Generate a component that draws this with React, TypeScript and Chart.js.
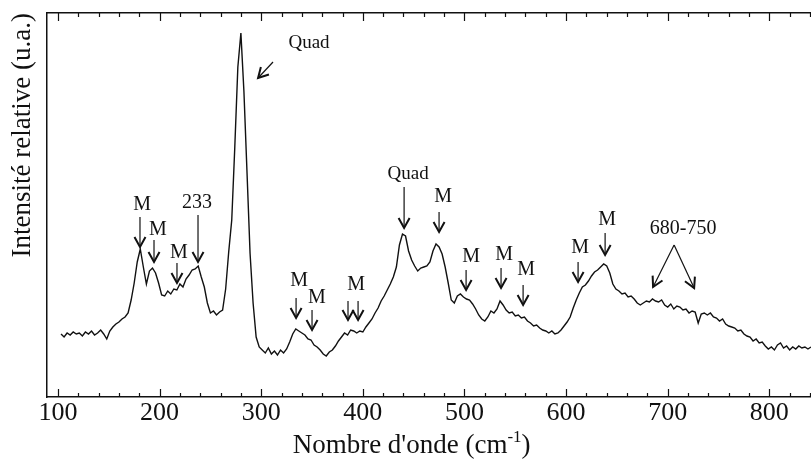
import { useEffect, useRef } from "react";
import { Chart, registerables } from "chart.js";

Chart.register(...registerables);

// Raman spectrum, sampled every 3 cm-1 starting at 103 cm-1
const WAVENUMBER_START = 103;
const WAVENUMBER_STEP = 3;
const INTENSITY = [
  63, 60, 64, 62, 65, 63, 64, 61, 65, 63,
  66, 62, 64, 67, 63, 58, 66, 70, 73, 75,
  78, 80, 84, 97, 114, 135, 148, 130, 113, 126,
  129, 124, 114, 102, 101, 106, 103, 108, 107, 113,
  110, 118, 122, 127, 128, 131, 120, 110, 94, 84,
  86, 82, 85, 87, 108, 145, 177, 250, 330, 364,
  305, 225, 144, 94, 60, 50, 47, 44, 49, 43,
  46, 42, 47, 44, 48, 55, 63, 68, 66, 64,
  62, 58, 57, 52, 50, 47, 43, 41, 45, 47,
  51, 56, 60, 64, 62, 67, 66, 64, 66, 65,
  70, 74, 78, 84, 89, 96, 101, 107, 113, 120,
  130, 152, 163, 161, 146, 137, 131, 126, 129, 130,
  131, 135, 146, 153, 150, 143, 130, 114, 97, 94,
  101, 103, 100, 98, 97, 93, 88, 82, 78, 76,
  80, 86, 84, 88, 96, 92, 87, 84, 85, 81,
  82, 79, 80, 76, 74, 71, 72, 69, 67, 66,
  64, 66, 63, 64, 67, 71, 75, 80, 89, 97,
  104, 110, 112, 116, 121, 125, 127, 130, 133, 131,
  124, 113, 108, 106, 103, 104, 100, 101, 98, 94,
  92, 94, 96, 95, 98, 96, 95, 97, 92, 90,
  93, 88, 91, 90, 87, 88, 84, 86, 85, 74,
  83, 84, 82, 84, 80, 79, 76, 78, 73, 71,
  70, 69, 66, 67, 63, 61, 60, 56, 58, 54,
  55, 51, 48, 50, 47, 52, 54, 49, 51, 47,
  50, 48, 51, 49, 50, 48, 50,
];

const X_MIN = 89.2;
const X_MAX = 841;
const Y_MIN = 0;
const Y_MAX = 384;
const X_TICK_LABELS = [100, 200, 300, 400, 500, 600, 700, 800];
const X_MINOR_STEP = 20;
const X_TICK_LAST = 840;

const Y_TITLE = "Intensité relative (u.a.)";
const X_TITLE_MAIN = "Nombre d'onde (cm";
const X_TITLE_SUP = "-1";
const X_TITLE_END = ")";
const X_TITLE_CENTER = 448;

// Peak annotations: label position and arrows [x1, y1, xTip, yTip] in data units
const ANNOTATION_TEXTS = ["M", "M", "M", "233", "Quad", "M", "M", "M", "Quad", "M", "M", "M", "M", "M", "M", "680-750"];
const ANNOTATION_X = [182.7, 198.4, 219.1, 236.8, 347, 337.2, 354.9, 393.3, 444.5, 478.9, 506.5, 539, 560.6, 613.8, 640.4, 715.2];
const ANNOTATION_Y = [192, 167, 144, 194, 354, 116, 99, 112, 223, 200, 140, 142, 127, 149, 177, 168];
const ANNOTATION_ARROWS: number[][][] = [
  [[180.7, 180, 180.7, 150]],
  [[194.5, 157, 194.5, 135]],
  [[217.1, 134, 217.1, 114]],
  [[237.8, 182, 237.8, 135]],
  [[311.6, 335, 296.9, 319]],
  [[334.3, 99, 334.3, 79]],
  [[350, 87, 350, 67]],
  [[385.4, 96, 385.4, 77], [395.3, 96, 395.3, 77]],
  [[440.6, 210, 440.6, 169]],
  [[475, 185, 475, 165]],
  [[501.6, 127, 501.6, 107]],
  [[536, 129, 536, 109]],
  [[557.7, 112, 557.7, 92]],
  [[611.8, 135, 611.8, 115]],
  [[638.4, 164, 638.4, 142]],
  [[706.3, 152, 685.6, 110], [706.3, 152, 726, 109]],
];

const SERIF = '"Liberation Serif", "Times New Roman", Times, serif';
const INK = "#111";

const decorPlugin = {
  id: "decor",
  afterDatasetsDraw(chart: any) {
    const ctx = chart.ctx as CanvasRenderingContext2D;
    const xs = chart.scales.x;
    const ys = chart.scales.y;
    const area = chart.chartArea;
    ctx.save();
    // inward tick marks on bottom and top axes
    ctx.strokeStyle = INK;
    ctx.lineWidth = 1.2;
    for (let v = X_TICK_LABELS[0]; v <= X_TICK_LAST; v += X_MINOR_STEP) {
      const px = Math.round(xs.getPixelForValue(v)) + 0.5;
      const len = v % 100 === 0 ? 8 : 4;
      ctx.beginPath();
      ctx.moveTo(px, area.bottom);
      ctx.lineTo(px, area.bottom - len);
      ctx.moveTo(px, area.top);
      ctx.lineTo(px, area.top + len);
      ctx.stroke();
    }
    // annotations
    ctx.fillStyle = INK;
    ctx.textAlign = "center";
    ctx.textBaseline = "middle";
    ANNOTATION_TEXTS.forEach((t, i) => {
      ctx.font = `${t === "Quad" ? 19 : 20}px ${SERIF}`;
      ctx.fillText(t, xs.getPixelForValue(ANNOTATION_X[i]), ys.getPixelForValue(ANNOTATION_Y[i]));
      ANNOTATION_ARROWS[i].forEach((a) => {
        const x1 = xs.getPixelForValue(a[0]);
        const y1 = ys.getPixelForValue(a[1]);
        const x2 = xs.getPixelForValue(a[2]);
        const y2 = ys.getPixelForValue(a[3]);
        ctx.lineWidth = 1.2;
        ctx.beginPath();
        ctx.moveTo(x1, y1);
        ctx.lineTo(x2, y2);
        ctx.stroke();
        const dx = x2 - x1;
        const dy = y2 - y1;
        const d = Math.hypot(dx, dy) || 1;
        const ux = dx / d;
        const uy = dy / d;
        const L = 10;
        const W = 5.5;
        ctx.lineWidth = 2;
        ctx.beginPath();
        ctx.moveTo(x2 - ux * L - uy * W, y2 - uy * L + ux * W);
        ctx.lineTo(x2, y2);
        ctx.lineTo(x2 - ux * L + uy * W, y2 - uy * L - ux * W);
        ctx.stroke();
      });
    });
    // x axis title with superscript
    const cx = xs.getPixelForValue(X_TITLE_CENTER);
    const baseY = 453;
    ctx.textAlign = "left";
    ctx.textBaseline = "alphabetic";
    ctx.font = `27px ${SERIF}`;
    const w1 = ctx.measureText(X_TITLE_MAIN).width;
    const w3 = ctx.measureText(X_TITLE_END).width;
    ctx.font = `17px ${SERIF}`;
    const w2 = ctx.measureText(X_TITLE_SUP).width;
    let x = cx - (w1 + w2 + w3) / 2;
    ctx.font = `27px ${SERIF}`;
    ctx.fillText(X_TITLE_MAIN, x, baseY);
    x += w1;
    ctx.font = `17px ${SERIF}`;
    ctx.fillText(X_TITLE_SUP, x, baseY - 11);
    x += w2;
    ctx.font = `27px ${SERIF}`;
    ctx.fillText(X_TITLE_END, x, baseY);
    ctx.restore();
  },
};

export default function App() {
  const ref = useRef<HTMLCanvasElement | null>(null);
  useEffect(() => {
    if (!ref.current) return;
    const points = INTENSITY.map((v, i) => ({ x: WAVENUMBER_START + i * WAVENUMBER_STEP, y: v }));
    const chart = new Chart(ref.current, {
      type: "line",
      data: {
        datasets: [
          {
            data: points,
            borderColor: INK,
            borderWidth: 1.4,
            pointRadius: 0,
            tension: 0,
            fill: false,
          },
        ],
      },
      options: {
        animation: false,
        responsive: false,
        devicePixelRatio: 1,
        layout: { padding: 0 },
        plugins: { legend: { display: false }, tooltip: { enabled: false }, title: { display: false } },
        scales: {
          x: {
            type: "linear",
            position: "bottom",
            min: X_MIN,
            max: X_MAX,
            grid: { display: false, drawTicks: false },
            border: { display: true, color: INK, width: 1.5 },
            afterBuildTicks: (scale: any) => {
              const t: any[] = [];
              for (let v = X_TICK_LABELS[0]; v <= X_TICK_LAST; v += X_MINOR_STEP) t.push({ value: v });
              scale.ticks = t;
            },
            afterFit: (scale: any) => {
              scale.height = 62;
            },
            ticks: {
              autoSkip: false,
              maxRotation: 0,
              padding: 1,
              color: INK,
              font: { family: SERIF, size: 26 },
              callback: (v: any) => (X_TICK_LABELS.includes(Number(v)) ? String(v) : ""),
            },
          },
          xTop: {
            type: "linear",
            position: "top",
            min: X_MIN,
            max: X_MAX,
            grid: { display: false, drawTicks: false },
            border: { display: true, color: INK, width: 1.5 },
            ticks: { display: false },
            afterFit: (scale: any) => {
              scale.height = 13;
            },
          },
          y: {
            type: "linear",
            position: "left",
            min: Y_MIN,
            max: Y_MAX,
            grid: { display: false, drawTicks: false },
            border: { display: true, color: INK, width: 1.5 },
            ticks: { display: false },
            afterFit: (scale: any) => {
              scale.width = 47;
            },
            title: {
              display: true,
              text: Y_TITLE,
              align: "end",
              color: INK,
              font: { family: SERIF, size: 27 },
              padding: { top: 7, bottom: 0 },
            },
          },
        },
      },
      plugins: [decorPlugin],
    });
    return () => chart.destroy();
  }, []);
  return (
    <div style={{ position: "fixed", left: 0, top: 0, width: 811, height: 459, overflow: "hidden", background: "#fff" }}>
      <canvas ref={ref} width={811} height={459} style={{ width: 811, height: 459, display: "block" }} />
    </div>
  );
}
